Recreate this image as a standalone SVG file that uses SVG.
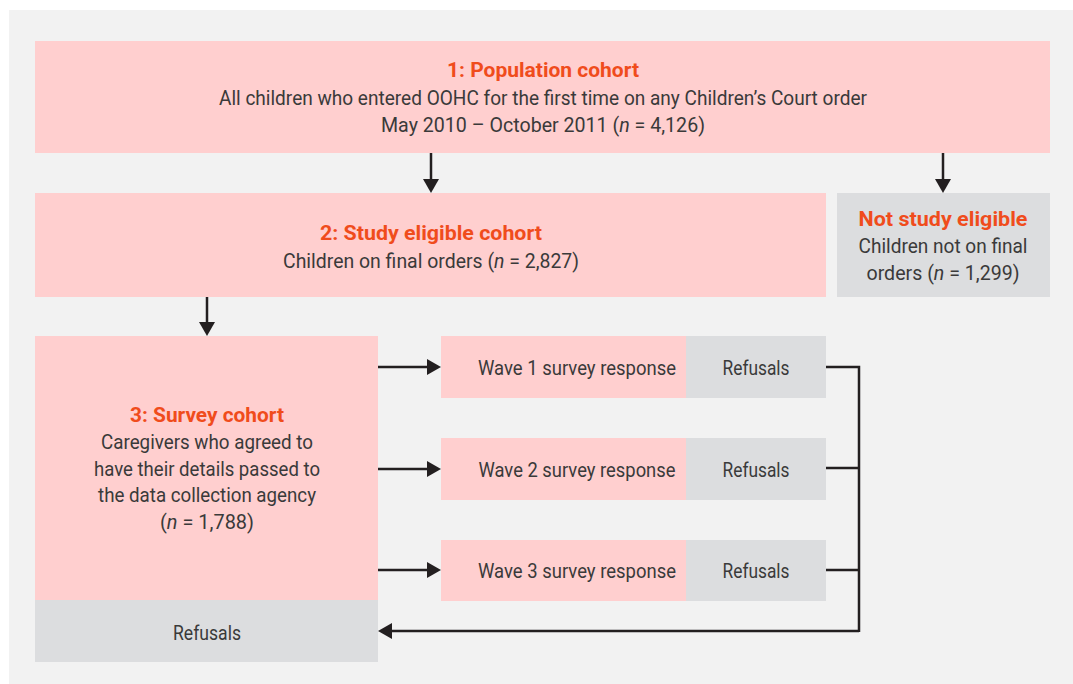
<svg xmlns="http://www.w3.org/2000/svg" width="1073" height="684" viewBox="0 0 1073 684">
<defs>
<style>
.pink{fill:#ffcfcf}
.grey{fill:#dcdddf}
text{font-family:"Roboto","Liberation Sans",sans-serif;font-size:20px;fill:#3a3a3a;text-anchor:middle}
.t{font-weight:bold;fill:#f04c1c}
.c{stroke:#231f20;stroke-width:2.5;fill:none}
.a{stroke:#231f20;stroke-width:2.5;fill:none;marker-end:url(#ah)}
</style>
<marker id="ah" viewBox="0 0 14 16" refX="8" refY="8" markerWidth="14" markerHeight="16" markerUnits="userSpaceOnUse" orient="auto">
<path d="M0,0 L14,8 L0,16 z" fill="#231f20"/>
</marker>
</defs>
<rect x="0" y="0" width="1073" height="684" fill="#ffffff"/>
<rect x="9" y="10" width="1064" height="674" fill="#f2f2f2"/>

<g id="population">
<rect class="pink" x="35" y="41" width="1015" height="112"/>
<text class="t" x="543" y="77" textLength="192" lengthAdjust="spacingAndGlyphs">1: Population cohort</text>
<text x="543" y="105" textLength="648" lengthAdjust="spacingAndGlyphs">All children who entered OOHC for the first time on any Children’s Court order</text>
<text x="543" y="132" textLength="324" lengthAdjust="spacingAndGlyphs">May 2010 – October 2011 (<tspan font-style="italic">n</tspan> = 4,126)</text>
</g>

<g id="eligible">
<rect class="pink" x="35" y="193" width="791" height="104"/>
<text class="t" x="431" y="240" textLength="222" lengthAdjust="spacingAndGlyphs">2: Study eligible cohort</text>
<text x="431" y="268" textLength="296" lengthAdjust="spacingAndGlyphs">Children on final orders (<tspan font-style="italic">n</tspan> = 2,827)</text>
</g>

<g id="noteligible">
<rect class="grey" x="837" y="193" width="213" height="104"/>
<text class="t" x="943" y="226" textLength="169" lengthAdjust="spacingAndGlyphs">Not study eligible</text>
<text x="943" y="253" textLength="169" lengthAdjust="spacingAndGlyphs">Children not on final</text>
<text x="943" y="280" textLength="153" lengthAdjust="spacingAndGlyphs">orders (<tspan font-style="italic">n</tspan> = 1,299)</text>
</g>

<g id="survey">
<rect class="pink" x="35" y="336" width="343" height="264"/>
<text class="t" x="207" y="422" textLength="154" lengthAdjust="spacingAndGlyphs">3: Survey cohort</text>
<text x="207" y="449" textLength="212" lengthAdjust="spacingAndGlyphs">Caregivers who agreed to</text>
<text x="207" y="476" textLength="226" lengthAdjust="spacingAndGlyphs">have their details passed to</text>
<text x="207" y="502" textLength="218" lengthAdjust="spacingAndGlyphs">the data collection agency</text>
<text x="207" y="529" textLength="94" lengthAdjust="spacingAndGlyphs">(<tspan font-style="italic">n</tspan> = 1,788)</text>
</g>

<g id="survey-refusals">
<rect class="grey" x="35" y="600" width="343" height="62"/>
<text x="207" y="640" textLength="68" lengthAdjust="spacingAndGlyphs">Refusals</text>
</g>

<g id="wave1">
<rect class="pink" x="441" y="336" width="245" height="62"/>
<text x="577" y="375" textLength="198" lengthAdjust="spacingAndGlyphs">Wave 1 survey response</text>
</g>
<g id="wave1-refusals">
<rect class="grey" x="686" y="336" width="140" height="62"/>
<text x="756" y="375" textLength="67" lengthAdjust="spacingAndGlyphs">Refusals</text>
</g>

<g id="wave2">
<rect class="pink" x="441" y="438" width="245" height="62"/>
<text x="577" y="477" textLength="197" lengthAdjust="spacingAndGlyphs">Wave 2 survey response</text>
</g>
<g id="wave2-refusals">
<rect class="grey" x="686" y="438" width="140" height="62"/>
<text x="756" y="477" textLength="67" lengthAdjust="spacingAndGlyphs">Refusals</text>
</g>

<g id="wave3">
<rect class="pink" x="441" y="540" width="245" height="61"/>
<text x="577" y="578" textLength="198" lengthAdjust="spacingAndGlyphs">Wave 3 survey response</text>
</g>
<g id="wave3-refusals">
<rect class="grey" x="686" y="540" width="140" height="61"/>
<text x="756" y="578" textLength="67" lengthAdjust="spacingAndGlyphs">Refusals</text>
</g>

<g id="connectors">
<line class="a" x1="431" y1="153" x2="431" y2="187"/>
<line class="a" x1="943" y1="153" x2="943" y2="187"/>
<line class="a" x1="207" y1="297" x2="207" y2="330"/>
<line class="a" x1="378" y1="367" x2="435" y2="367"/>
<line class="a" x1="378" y1="469" x2="435" y2="469"/>
<line class="a" x1="378" y1="570" x2="435" y2="570"/>
<polyline class="c" points="826,367 859,367 859,632"/>
<line class="c" x1="826" y1="468" x2="859" y2="468"/>
<line class="c" x1="826" y1="570" x2="859" y2="570"/>
<polyline class="a" points="859,631 384,631"/>
</g>
</svg>
